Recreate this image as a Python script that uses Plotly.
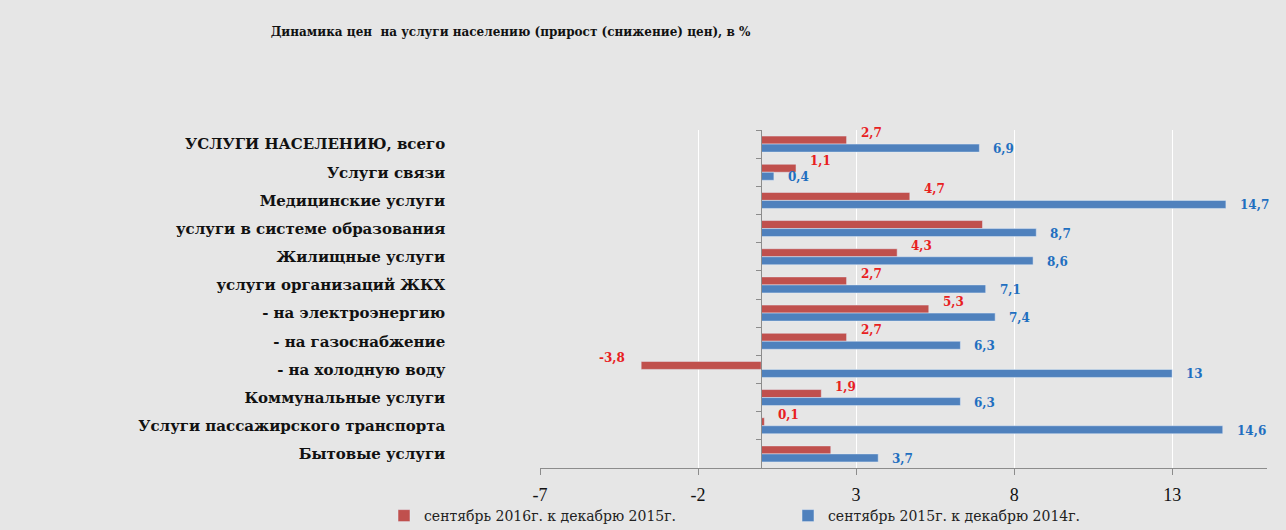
import plotly.graph_objects as go

categories = [
    "УСЛУГИ НАСЕЛЕНИЮ, всего",
    "Услуги связи",
    "Медицинские услуги",
    "услуги в системе образования",
    "Жилищные услуги",
    "услуги организаций ЖКХ",
    "- на электроэнергию",
    "- на газоснабжение",
    "- на холодную воду",
    "Коммунальные услуги",
    "Услуги пассажирского транспорта",
    "Бытовые услуги",
]
series_2016 = [2.7, 1.1, 4.7, 7.0, 4.3, 2.7, 5.3, 2.7, -3.8, 1.9, 0.1, 2.2]
series_2015 = [6.9, 0.4, 14.7, 8.7, 8.6, 7.1, 7.4, 6.3, 13, 6.3, 14.6, 3.7]
show_2016 = [True, True, True, False, True, True, True, True, True, True, True, False]
show_2015 = [True] * 12
name_2016 = "сентябрь 2016г. к декабрю 2015г."
name_2015 = "сентябрь 2015г. к декабрю 2014г."
x_ticks = [-7, -2, 3, 8, 13]
x_range = [-7, 16]
title = "Динамика цен  на услуги населению (прирост (снижение) цен), в %"

RED = "#C0504D"
BLUE = "#4F81BD"
RED_TXT = "#E8201E"
BLUE_TXT = "#1F6FC0"
SERIF = "DejaVu Serif"
BG = "#e6e6e6"


def fmt(v):
    s = str(v)
    if s.endswith(".0") and abs(v) >= 10:
        s = s[:-2]
    return s.replace(".", ",")


fig = go.Figure()
fig.add_trace(go.Bar(y=categories, x=series_2016, orientation="h", name=name_2016,
                     marker_color=RED, hoverinfo="skip", legend="legend"))
fig.add_trace(go.Bar(y=categories, x=series_2015, orientation="h", name=name_2015,
                     marker_color=BLUE, hoverinfo="skip", legend="legend2"))

ann = []
for vals, shows, col, ysh in [(series_2016, show_2016, RED_TXT, 11), (series_2015, show_2015, BLUE_TXT, -5)]:
    for c, v, s in zip(categories, vals, shows):
        if not s:
            continue
        ann.append(dict(x=v, y=c, xref="x", yref="y", text=fmt(v), showarrow=False,
                        xanchor="left" if v >= 0 else "right",
                        xshift=12 if v >= 0 else -14, yshift=ysh,
                        font=dict(family=SERIF, size=12, color=col, weight="bold")))

zero_pos = (0 - x_range[0]) / (x_range[1] - x_range[0])

legend_common = dict(orientation="h", xref="container", yref="container",
                     y=(530 - 516) / 530, yanchor="middle", xanchor="left", itemwidth=30,
                     font=dict(family=SERIF, size=14, color="#222"), bgcolor="rgba(0,0,0,0)")

fig.update_layout(
    width=1286, height=530,
    margin=dict(l=540, r=19, t=130, b=62, autoexpand=False),
    paper_bgcolor=BG, plot_bgcolor=BG,
    barmode="group", bargap=0.43, bargroupgap=0,
    title=dict(text=title, x=0.397, xanchor="center", y=0.94, yanchor="middle",
               font=dict(family=SERIF, size=12, color="#111", weight="bold")),
    annotations=ann,
    showlegend=True,
    legend=dict(x=384 / 1286, **legend_common),
    legend2=dict(x=788 / 1286, **legend_common),
    xaxis=dict(range=x_range, tickvals=x_ticks, ticktext=[str(t) for t in x_ticks],
               showgrid=True, gridcolor="#ffffff", gridwidth=1, zeroline=False,
               showline=True, linecolor="#8c8c8c", ticks="outside", ticklen=6,
               tickcolor="#8c8c8c", ticklabelstandoff=4,
               tickfont=dict(family="Liberation Serif", size=18, color="#111")),
    yaxis=dict(autorange="reversed", type="category", anchor="free", position=zero_pos,
               showline=True, linecolor="#8c8c8c", ticks="outside", ticklen=5,
               tickcolor="#8c8c8c", tickson="boundaries", showgrid=False,
               ticklabelstandoff=313,
               tickfont=dict(family=SERIF, size=15, color="#111", weight="bold")),
)

fig.write_html("out.html")
